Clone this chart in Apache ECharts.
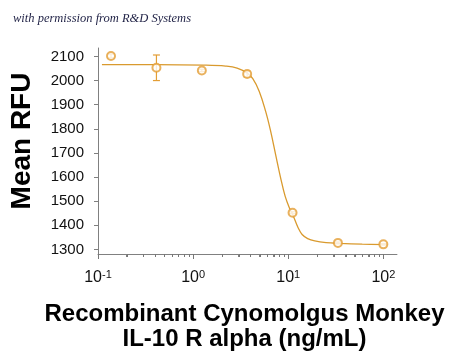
<!DOCTYPE html>
<html>
<head>
<meta charset="utf-8">
<script src="https://cdn.jsdelivr.net/npm/echarts@6/dist/echarts.min.js"></script>
<style>html,body{margin:0;padding:0;background:#fff}#c{width:450px;height:357px}</style>
</head>
<body>
<div id="c"></div>
<script>
// Data
var concentrations = [0.137, 0.4115, 1.235, 3.70, 11.1, 33.3, 100];
var meanRFU = [2102, 2053, 2042, 2027, 1452, 1327, 1321];
var errorRFU = [8, 53, 5, 12, 4, 4, 3];
var curveConc = [0.11, 0.40, 1.3, 2.2, 2.9, 3.68, 4.24, 4.96, 5.80, 6.53, 7.35, 8.27, 9.29, 10.45, 11.1, 12.7, 14.0, 16.0, 19.0, 25, 35, 60, 110];
var curveRFU = [2066, 2066, 2064, 2060, 2052, 2032, 2008, 1955, 1871, 1790, 1695, 1601, 1520, 1466, 1446, 1390, 1362, 1345, 1335, 1328, 1325, 1322, 1320];
var xMajorTicks = [0.1, 1, 10, 100];
var xMinorTicks = [0.2,0.3,0.4,0.5,0.6,0.7,0.8,0.9,2,3,4,5,6,7,8,9,20,30,40,50,60,70,80,90];
var yTicks = [1300, 1400, 1500, 1600, 1700, 1800, 1900, 2000, 2100];
var yTitle = 'Mean RFU';
var xTitle = 'Recombinant Cynomolgus Monkey\nIL-10 R alpha (ng/mL)';
var credit = 'with permission from R&D Systems';

var pointColor = '#E39E35';
var lineColor = '#D99A2E';
var axisColor = '#808080';
var yMin = 1281, yMax = 2135;

var points = concentrations.map(function (c, i) { return [c, meanRFU[i]]; });
var errors = concentrations.map(function (c, i) { return [c, meanRFU[i] - errorRFU[i], meanRFU[i] + errorRFU[i]]; });
var curve = curveConc.map(function (c, i) { return [c, curveRFU[i]]; });

var chart = echarts.init(document.getElementById('c'), null, {renderer: 'canvas'});
chart.setOption({
  animation: false,
  backgroundColor: '#fff',
  title: {
    text: credit, left: 8, top: 7,
    textStyle: {fontFamily: 'Liberation Serif', fontStyle: 'italic', fontWeight: 'normal', fontSize: 12.5, color: '#1f2145'}
  },
  grid: {left: 91, right: 52, top: 48, bottom: 98, containLabel: false},
  xAxis: {
    type: 'log', logBase: 10, min: 0.1, max: 139,
    name: xTitle, nameLocation: 'middle', nameGap: 48,
    nameTextStyle: {fontFamily: 'Liberation Sans', fontWeight: 'bold', fontSize: 24, color: '#000', lineHeight: 25, padding: [0, 6, 0, 0]},
    axisLine: {lineStyle: {color: axisColor, width: 1}},
    axisTick: {show: true, length: 3, customValues: xMajorTicks.concat(xMinorTicks), lineStyle: {color: axisColor}},
    splitLine: {show: false},
    minorTick: {show: false},
    axisLabel: {
      customValues: xMajorTicks, margin: 15, color: '#111',
      fontFamily: 'Liberation Sans', fontSize: 16,
      formatter: function (v) { return '10{s|' + Math.round(Math.log10(v)) + '}'; },
      rich: {s: {fontSize: 11, verticalAlign: 'top', fontFamily: 'Liberation Sans', color: '#111', padding: [0, 0, 6, 0]}}
    }
  },
  yAxis: {
    type: 'value', min: yMin, max: yMax,
    name: yTitle, nameLocation: 'middle', nameGap: 62,
    nameTextStyle: {fontFamily: 'Liberation Sans', fontWeight: 'bold', fontSize: 28, color: '#000', padding: [0, 0, 0, 20]},
    axisLine: {show: true, lineStyle: {color: axisColor, width: 1}},
    axisTick: {show: true, length: 4, customValues: yTicks, lineStyle: {color: axisColor}},
    axisLabel: {customValues: yTicks, margin: 14, color: '#111', fontFamily: 'Liberation Sans', fontSize: 15,
      formatter: function (v) { return String(v); }},
    splitLine: {show: false}
  },
  series: [
    {
      type: 'line', data: curve, smooth: 0.4, showSymbol: false, symbol: 'none',
      lineStyle: {color: lineColor, width: 1.3}, z: 2
    },
    {
      type: 'custom', data: errors, z: 3,
      renderItem: function (params, api) {
        var x = api.value(0);
        var lo = api.coord([x, api.value(1)]);
        var hi = api.coord([x, api.value(2)]);
        var w = 3.5;
        var st = {stroke: pointColor, lineWidth: 1.2, fill: null};
        return {type: 'group', children: [
          {type: 'line', shape: {x1: lo[0], y1: lo[1], x2: hi[0], y2: hi[1]}, style: st},
          {type: 'line', shape: {x1: lo[0] - w, y1: lo[1], x2: lo[0] + w, y2: lo[1]}, style: st},
          {type: 'line', shape: {x1: hi[0] - w, y1: hi[1], x2: hi[0] + w, y2: hi[1]}, style: st}
        ]};
      }
    },
    {
      type: 'scatter', data: points, symbol: 'emptyCircle', symbolSize: 8, z: 4,
      itemStyle: {color: pointColor, borderColor: pointColor, borderWidth: 1.3}
    }
  ]
});

// x-axis decade / sub-decade tick marks, positioned through the chart's own log scale
var axisY = chart.convertToPixel({yAxisIndex: 0}, yMin);
var tickGraphics = [];
xMajorTicks.forEach(function (v) {
  var x = Math.round(chart.convertToPixel({xAxisIndex: 0}, v)) + 0.5;
  tickGraphics.push({type: 'line', z: 100, silent: true,
    shape: {x1: x, y1: axisY, x2: x, y2: axisY + 5}, style: {stroke: '#777', lineWidth: 1}});
});
xMinorTicks.forEach(function (v) {
  var x = Math.round(chart.convertToPixel({xAxisIndex: 0}, v)) + 0.5;
  tickGraphics.push({type: 'line', z: 100, silent: true,
    shape: {x1: x, y1: axisY, x2: x, y2: axisY + 3}, style: {stroke: '#777', lineWidth: 1}});
});
chart.setOption({graphic: tickGraphics});
</script>
</body>
</html>
